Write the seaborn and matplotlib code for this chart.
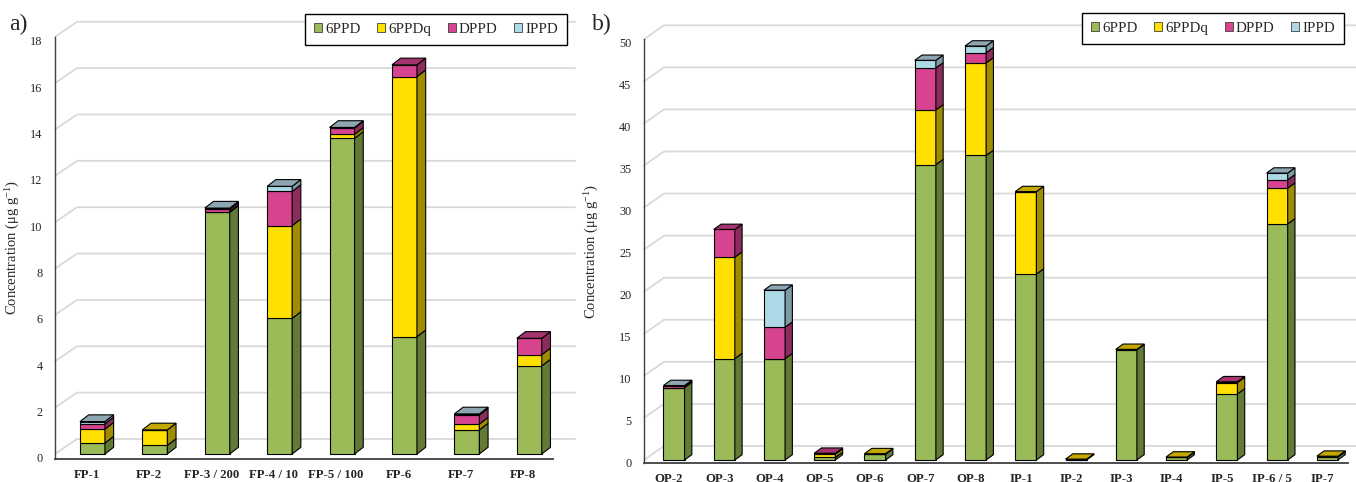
import numpy as np
import matplotlib
matplotlib.use("Agg")
import matplotlib.pyplot as plt
import seaborn as sns
from matplotlib.patches import Polygon, Patch
from matplotlib.lines import Line2D
from matplotlib.transforms import IdentityTransform, ScaledTranslation

# ---------------- data ----------------
series_names = ["6PPD", "6PPDq", "DPPD", "IPPD"]

fp_categories = ["FP-1", "FP-2", "FP-3 / 200", "FP-4 / 10", "FP-5 / 100", "FP-6", "FP-7", "FP-8"]
fp_6ppd = [0.47, 0.37, 10.43, 5.85, 13.62, 5.06, 1.04, 3.80]
fp_6ppdq = [0.60, 0.67, 0.03, 4.00, 0.17, 11.22, 0.25, 0.48]
fp_dppd = [0.23, 0.00, 0.10, 1.48, 0.27, 0.51, 0.39, 0.71]
fp_ippd = [0.10, 0.00, 0.05, 0.22, 0.03, 0.00, 0.05, 0.00]

p_categories = ["OP-2", "OP-3", "OP-4", "OP-5", "OP-6", "OP-7", "OP-8",
                "IP-1", "IP-2", "IP-3", "IP-4", "IP-5", "IP-6 / 5", "IP-7"]
p_6ppd = [8.60, 12.05, 12.05, 0.30, 0.70, 35.10, 36.20, 22.10, 0.00, 13.10, 0.30, 7.85, 28.06, 0.35]
p_6ppdq = [0.00, 12.05, 0.00, 0.40, 0.05, 6.50, 11.00, 9.80, 0.10, 0.05, 0.05, 1.35, 4.24, 0.10]
p_dppd = [0.15, 3.30, 3.73, 0.10, 0.00, 5.00, 1.20, 0.00, 0.00, 0.00, 0.00, 0.10, 1.00, 0.00]
p_ippd = [0.10, 0.00, 4.40, 0.00, 0.00, 0.90, 0.80, 0.00, 0.00, 0.00, 0.00, 0.00, 0.80, 0.00]

# ---------------- style ----------------
front_colors = ["#9BBB59", "#FFE000", "#D6448F", "#ADD8E6"]
side_colors = ["#627A36", "#A08C00", "#8C2B5E", "#7E9BA7"]
top_colors = ["#7D9746", "#C4A800", "#A5336F", "#8DA6B2"]

sns.set_style("white")
plt.rcParams["font.family"] = ["Liberation Serif", "DejaVu Serif"]
plt.rcParams["mathtext.fontset"] = "custom"
plt.rcParams["mathtext.rm"] = "Liberation Serif"
plt.rcParams["mathtext.it"] = "Liberation Serif:italic"

W, H = 1356, 482
fig = plt.figure(figsize=(W / 100, H / 100), dpi=100)


def px_axes(x0, x1, ytop, ybot):
    return fig.add_axes([x0 / W, (H - ybot) / H, (x1 - x0) / W, (ybot - ytop) / H])


def draw_panel(ax, cats, series, ylim, xlim, yticks, width, bar_d, wall_d,
               xlab_dx, ytick_dy, legend_anchor):
    n = len(cats)
    bottoms = np.zeros(n)
    seg_patches = []
    for k, vals in enumerate(series):
        before = len(ax.patches)
        sns.barplot(x=cats, y=vals, bottom=bottoms.copy(), color=front_colors[k],
                    saturation=1, width=width, edgecolor="black", linewidth=0.8,
                    errorbar=None, ax=ax, zorder=3)
        new = sorted(ax.patches[before:], key=lambda p: p.get_x())
        seg_patches.append(new)
        bottoms = bottoms + np.asarray(vals, dtype=float)

    ax.set_xlim(*xlim)
    ax.set_ylim(*ylim)
    ax.set_yticks(yticks)
    ax.set_xlabel("")

    T = ax.transData
    dxb, dyb = bar_d
    # 3D side and top faces derived from the bar patches
    for i in range(n):
        top_k = None
        for k in range(len(series)):
            if series[k][i] > 0:
                top_k = k
        for k in range(len(series)):
            p = seg_patches[k][i]
            h = p.get_height()
            if h <= 0:
                continue
            x0, y0, w = p.get_x(), p.get_y(), p.get_width()
            (xl, yb), (xr, yt) = T.transform([(x0, y0), (x0 + w, y0 + h)])
            side = Polygon([(xr, yb), (xr, yt), (xr + dxb, yt + dyb), (xr + dxb, yb + dyb)],
                           closed=True, transform=IdentityTransform(),
                           facecolor=side_colors[k], edgecolor="black", linewidth=0.8,
                           clip_on=False, zorder=3)
            ax.add_artist(side)
            if k == top_k:
                top = Polygon([(xl, yt), (xr, yt), (xr + dxb, yt + dyb), (xl + dxb, yt + dyb)],
                              closed=True, transform=IdentityTransform(),
                              facecolor=top_colors[k], edgecolor="black", linewidth=0.8,
                              clip_on=False, zorder=3)
                ax.add_artist(top)

    # back wall gridlines with perspective offset
    dxw, dyw = wall_d
    for v in yticks:
        (xa, ya), (xb, _) = T.transform([(xlim[0], v), (xlim[1], v)])
        ax.add_artist(Line2D([xa, xa + dxw, xb + dxw], [ya, ya + dyw, ya + dyw],
                             transform=IdentityTransform(), color="#D9D9D9",
                             linewidth=1.3, clip_on=False, zorder=0.5))

    for s in ["top", "right"]:
        ax.spines[s].set_visible(False)
    ax.spines["left"].set_color("#404040")
    ax.spines["left"].set_linewidth(1.0)
    ax.spines["bottom"].set_color("#404040")
    ax.spines["bottom"].set_linewidth(1.3)
    ax.tick_params(axis="both", length=0)
    ax.tick_params(axis="x", pad=7)
    ax.tick_params(axis="y", pad=9)
    for lab in ax.get_xticklabels():
        lab.set_fontweight("bold")
        lab.set_fontsize(9.2)
        lab.set_transform(lab.get_transform() + ScaledTranslation(xlab_dx / 100, 0, fig.dpi_scale_trans))
    for lab in ax.get_yticklabels():
        lab.set_fontsize(8.8)
        lab.set_color("#262626")
        lab.set_transform(lab.get_transform() + ScaledTranslation(0, ytick_dy / 100, fig.dpi_scale_trans))

    ax.set_ylabel("Concentration (μg g$^{-1}$)", fontsize=10.5, color="#262626")

    handles = [Patch(facecolor=front_colors[k], edgecolor="#404040", linewidth=0.6)
               for k in range(len(series))]
    leg = ax.legend(handles, series_names, loc="upper right", bbox_to_anchor=legend_anchor,
                    bbox_transform=fig.transFigure, ncol=4, frameon=True, fancybox=False,
                    edgecolor="black", framealpha=1, fontsize=10.8, handlelength=0.55,
                    handleheight=0.55, handletextpad=0.2, columnspacing=1.1,
                    borderpad=0.6, borderaxespad=0)
    leg.get_frame().set_linewidth(1.0)
    return ax


ax1 = px_axes(55, 553, 36.8, 459)
draw_panel(ax1, fp_categories, [fp_6ppd, fp_6ppdq, fp_dppd, fp_ippd],
           ylim=(-0.216, 18.0), xlim=(-0.6, 7.38), yticks=list(range(0, 19, 2)),
           width=0.40, bar_d=(8.7, 6.7), wall_d=(22, 15), xlab_dx=-6, ytick_dy=-4,
           legend_anchor=(567 / W, 1 - 14 / H))
ax1.yaxis.set_label_coords((21.7 - 55) / 498, 0.5)

ax2 = px_axes(644, 1348, 39.3, 463)
draw_panel(ax2, p_categories, [p_6ppd, p_6ppdq, p_dppd, p_ippd],
           ylim=(-0.36, 50.0), xlim=(-0.597, 13.41), yticks=list(range(0, 51, 5)),
           width=0.42, bar_d=(7.3, 5.3), wall_d=(20, 14), xlab_dx=-5, ytick_dy=-3,
           legend_anchor=(1344 / W, 1 - 13 / H))
ax2.yaxis.set_label_coords((600.6 - 644) / 704, 0.5)

fig.text(9 / W, 1 - 24 / H, "a)", fontsize=17, va="center", ha="left")
fig.text(592 / W, 1 - 24 / H, "b)", fontsize=17, va="center", ha="left")

fig.savefig("out.png", dpi=100)
